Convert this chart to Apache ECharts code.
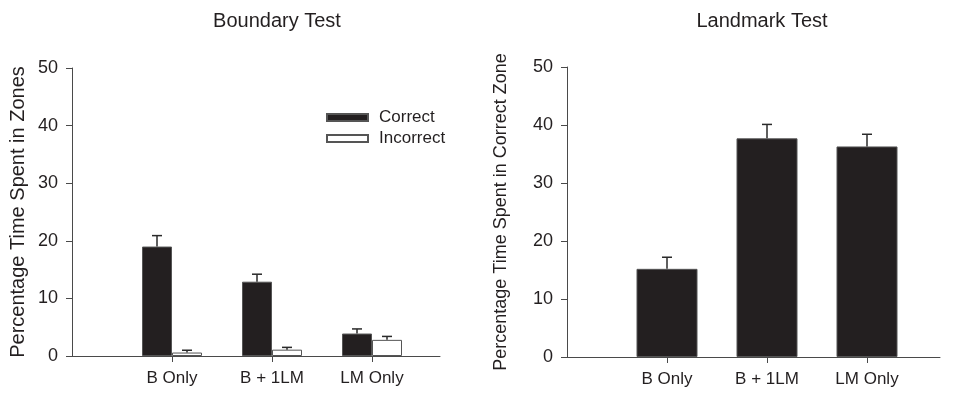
<!DOCTYPE html>
<html>
<head>
<meta charset="utf-8">
<script src="https://cdn.jsdelivr.net/npm/echarts@6/dist/echarts.min.js"></script>
<style>
  html, body { margin: 0; padding: 0; background: #fff; }
  #main { width: 958px; height: 394px; }
</style>
</head>
<body>
<div id="main"></div>
<script type="text/javascript">
// categories, shared by both panels
var categories = ['B Only', 'B + 1LM', 'LM Only'];
var catPos = [1, 2, 3];
var yTicks = [0, 10, 20, 30, 40, 50];

// Boundary test (left)
var boundaryCorrect = [19.0, 12.9, 3.9];
var boundaryCorrectErr = [1.9, 1.3, 0.8];
var boundaryIncorrect = [0.6, 1.1, 2.8];
var boundaryIncorrectErr = [0.4, 0.4, 0.6];

// Landmark test (right)
var landmarkCorrect = [15.2, 37.7, 36.3];
var landmarkCorrectErr = [2.0, 2.4, 2.1];

var FONT = 'Liberation Sans, Arial, sans-serif';
var TXT = '#231f20';
var AX = '#4a4a4a';

function pairs(vals) {
    return vals.map(function (v, i) { return [catPos[i], v]; });
}
function errData(vals, errs) {
    return vals.map(function (v, i) { return [catPos[i], v, errs[i]]; });
}
// upward-only error bar, shifted sideways to sit on its bar
function errRenderer(offset, cap) {
    return function (params, api) {
        var x = api.value(0), y = api.value(1), e = api.value(2);
        var p0 = api.coord([x, y]);
        var p1 = api.coord([x, y + e]);
        var cx = p0[0] + offset;
        var st = { stroke: '#2a2a2a', lineWidth: 1.5 };
        return {
            type: 'group',
            children: [
                { type: 'line', shape: { x1: cx, y1: p0[1], x2: cx, y2: p1[1] }, style: st },
                { type: 'line', shape: { x1: cx - cap, y1: p1[1], x2: cx + cap, y2: p1[1] }, style: st }
            ]
        };
    };
}

function xAxisCfg(idx, max) {
    return {
        type: 'value', gridIndex: idx, min: 0, max: max,
        axisLine: { show: true, lineStyle: { color: AX, width: 1 } },
        axisTick: { show: true, length: 6, lineStyle: { color: AX }, customValues: catPos },
        axisLabel: {
            customValues: catPos, margin: 14, color: TXT, fontSize: 17, fontFamily: FONT,
            formatter: function (v) { return categories[Math.round(v) - 1] || ''; }
        },
        splitLine: { show: false }
    };
}
function yAxisCfg(idx, name, gap, nameSize) {
    return {
        type: 'value', gridIndex: idx, min: 0, max: 50, interval: 10,
        name: name, nameLocation: 'middle', nameGap: gap,
        nameTextStyle: { color: TXT, fontSize: nameSize, fontFamily: FONT },
        axisLine: { show: true, lineStyle: { color: AX, width: 1 } },
        axisTick: { show: true, length: 6, lineStyle: { color: AX } },
        axisLabel: { margin: 14, color: TXT, fontSize: 18, fontFamily: FONT },
        splitLine: { show: false }
    };
}

var myChart = echarts.init(document.getElementById('main'));

var option = {
    animation: false,
    backgroundColor: '#fff',
    title: [
        { text: 'Boundary Test', left: 272, top: 6, textAlign: 'center',
          textStyle: { color: TXT, fontSize: 20, fontWeight: 'normal', fontFamily: FONT } },
        { text: 'Landmark Test', left: 757, top: 6, textAlign: 'center',
          textStyle: { color: TXT, fontSize: 20, fontWeight: 'normal', fontFamily: FONT } }
    ],
    legend: {
        data: ['Correct', 'Incorrect'],
        orient: 'vertical', left: 321, top: 104,
        icon: 'rect', itemWidth: 41, itemHeight: 7, itemGap: 4,
        textStyle: { color: TXT, fontSize: 17, lineHeight: 17, fontFamily: FONT, padding: [0, 0, 0, 6] }
    },
    grid: [
        { left: 72, right: 518, top: 68, bottom: 38 },
        { left: 567, right: 18, top: 67, bottom: 37 }
    ],
    xAxis: [xAxisCfg(0, 3.68), xAxisCfg(1, 3.73)],
    yAxis: [
        yAxisCfg(0, 'Percentage Time Spent in Zones', 44, 20),
        yAxisCfg(1, 'Percentage Time Spent in Correct Zone', 57, 18)
    ],
    series: [
        {
            name: 'Correct', type: 'bar', xAxisIndex: 0, yAxisIndex: 0,
            barWidth: 30, barGap: '0%',
            itemStyle: { color: '#231f20', borderColor: '#555', borderWidth: 1 },
            data: pairs(boundaryCorrect)
        },
        {
            name: 'Incorrect', type: 'bar', xAxisIndex: 0, yAxisIndex: 0,
            barWidth: 30, barGap: '0%',
            itemStyle: { color: '#fff', borderColor: '#555', borderWidth: 1 },
            data: pairs(boundaryIncorrect)
        },
        {
            name: 'CorrectErr', type: 'custom', xAxisIndex: 0, yAxisIndex: 0, z: 3,
            renderItem: errRenderer(-15, 5),
            data: errData(boundaryCorrect, boundaryCorrectErr)
        },
        {
            name: 'IncorrectErr', type: 'custom', xAxisIndex: 0, yAxisIndex: 0, z: 3,
            renderItem: errRenderer(15, 5),
            data: errData(boundaryIncorrect, boundaryIncorrectErr)
        },
        {
            name: 'Landmark', type: 'bar', xAxisIndex: 1, yAxisIndex: 1,
            barWidth: 61,
            itemStyle: { color: '#231f20', borderColor: '#555', borderWidth: 1 },
            data: pairs(landmarkCorrect)
        },
        {
            name: 'LandmarkErr', type: 'custom', xAxisIndex: 1, yAxisIndex: 1, z: 3,
            renderItem: errRenderer(0, 5),
            data: errData(landmarkCorrect, landmarkCorrectErr)
        }
    ]
};

myChart.setOption(option);
</script>
</body>
</html>
